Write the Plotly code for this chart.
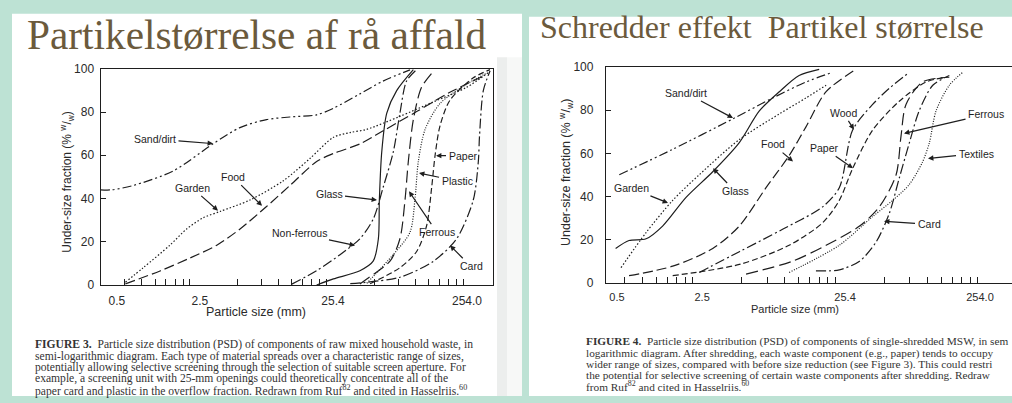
import math
import plotly.graph_objects as go

W, H = 1012, 403

# ---------------- Figure 3: raw mixed household waste (x: mm, y: % w/w) ----------------
f3_sand_x = [0.508, 0.61, 0.875, 1.72, 3.37, 5.3, 8.3, 12.3, 19.3, 25.5, 40, 59, 93]
f3_sand_y = [44, 44, 46, 52.7, 65.3, 72.8, 76.5, 77.7, 78.7, 81.7, 88.4, 94.3, 99.5]
f3_garden_x = [0.77, 1.04, 1.63, 2.16, 2.86, 3.79, 6.28, 11.0, 17.3, 25.6, 33.9, 44.9, 78.5, 138, 241, 358]
f3_garden_y = [1.3, 8, 18.4, 25.9, 31.1, 34, 39.3, 48.2, 58.6, 68.3, 70.5, 72, 78, 84.7, 91.4, 98.8]
f3_food_x = [0.77, 1.38, 2.29, 3.59, 5.31, 8.3, 12.3, 19.3, 25.6, 40.1, 59.2, 104, 182, 320]
f3_food_y = [0.5, 6.5, 12.5, 18.4, 25.9, 36.3, 46, 57.1, 60.8, 65.3, 71.3, 80.2, 89.1, 96.6]
f3_glass_x = [19.3, 25.6, 40, 50, 54.6, 55.5, 57.8, 62.9, 74.3, 98.4]
f3_glass_y = [0, 2.8, 6.6, 11, 21.4, 39.3, 61.6, 79.5, 89.9, 99.6]
f3_nonferrous_x = [12.7, 19.3, 28.6, 40, 50, 59.2, 70.2, 78.5, 87.8, 104]
f3_nonferrous_y = [0.4, 6.6, 14, 21.4, 30.4, 45.2, 61.6, 79.5, 94.3, 99.6]
f3_ferrous_x = [40, 44.9, 66.4, 78.5, 85.5, 90.4, 98.4, 113, 138]
f3_ferrous_y = [0.5, 2.8, 11, 21.4, 39.3, 57.1, 76.5, 91.4, 98.8]
f3_plastic_x = [44.9, 70, 93, 101, 107, 120, 154, 242, 339]
f3_plastic_y = [0.8, 14, 24.4, 39.3, 57.1, 72, 83.9, 92.9, 98]
f3_paper_x = [47.5, 78.5, 104, 123, 134, 142, 154, 182, 270, 358]
f3_paper_y = [0.6, 8, 15.5, 27.4, 45.2, 60.1, 73.5, 85.4, 95.8, 99.6]
f3_card_x = [34, 78.5, 138, 204, 270, 294, 300, 320, 358]
f3_card_y = [0.6, 3.6, 11, 21.4, 39.3, 57.1, 69, 90, 99]

# ---------------- Figure 4: single-shredded MSW ----------------
f4_sand_x = [0.70, 1.66, 4.38, 8.35, 14.3, 22]
f4_sand_y = [50.1, 61.9, 76, 85.7, 93.1, 97.6]
f4_garden_x = [0.72, 1.08, 1.66, 2.55, 4.87, 9.3, 14.3, 19.8]
f4_garden_y = [7, 23.3, 38.2, 50.1, 66.4, 78.3, 85.7, 91.6]
f4_glass_x = [0.66, 0.82, 1.08, 1.41, 2.06, 3.17, 4.87, 6.73, 9.3, 12.8, 17.7]
f4_glass_y = [15.9, 19.6, 20.4, 26.3, 39.6, 51.5, 65, 79.7, 88.6, 96.1, 99]
f4_food_x = [0.82, 1.66, 3.17, 4.87, 7.5, 10.9, 14.3, 19.8, 32]
f4_food_y = [3.3, 7.7, 15.9, 26.3, 44.1, 59, 72.3, 88.6, 99]
f4_wood_x = [2.55, 4.87, 9.8, 18.7, 24.5, 30.4, 42, 55, 76]
f4_wood_y = [4.8, 14.4, 24.8, 35.2, 44.1, 70.8, 82.7, 90.2, 97.6]
f4_paper_x = [1.66, 4.87, 10.9, 18.7, 24.5, 30.4, 42, 64.6, 99.5, 137]
f4_paper_y = [3.3, 8.5, 17.4, 27.8, 38.2, 53, 70.8, 84.2, 93.1, 95.3]
f4_ferrous_x = [5.43, 11.5, 19.8, 34, 46.8, 61.3, 66.4, 72, 94, 145]
f4_ferrous_y = [4, 10, 17.4, 26.3, 35.2, 50, 67.9, 82.7, 93.1, 95.3]
f4_textiles_x = [10.9, 24.5, 42, 58, 76, 94, 105, 117, 145, 180]
f4_textiles_y = [4.8, 17.4, 30.7, 38.2, 45.6, 56, 64.9, 79.7, 91.6, 97.6]
f4_card_x = [16.8, 24.5, 34, 44.4, 55, 64.6, 76, 89, 111, 145]
f4_card_y = [5.5, 6, 10, 18.9, 32.2, 48.6, 64.9, 79.7, 91.6, 96.1]

# ---------------- axis labels / texts ----------------
x_tick_text = ["0.5", "2.5", "25.4", "254.0"]
y_tick_vals = [0, 20, 40, 60, 80, 100]
title_left = "Partikelstørrelse af rå affald"
title_right = "Schredder effekt\u00a0 Partikel størrelse"
x_title = "Particle size (mm)"
y_title = "Under-size fraction (% <sup>w</sup>/<sub>w</sub>)"
caption_left = [
    "<b>FIGURE 3.</b>\u00a0 Particle size distribution (PSD) of components of raw mixed household waste, in",
    "semi-logarithmic diagram. Each type of material spreads over a characteristic range of sizes,",
    "potentially allowing selective screening through the selection of suitable screen aperture. For",
    "example, a screening unit with 25-mm openings could theoretically concentrate all of the",
    "paper card and plastic in the overflow fraction. Redrawn from Ruf<sup>82</sup> and cited in Hasselriis.<sup>60</sup>",
]
# the slide crops this caption at its right edge
caption_right = [
    "<b>FIGURE 4.</b>\u00a0 Particle size distribution (PSD) of components of single-shredded MSW, in sem",
    "logarithmic diagram. After shredding, each waste component (e.g., paper) tends to occupy",
    "wider range of sizes, compared with before size reduction (see Figure 3). This could restri",
    "the potential for selective screening of certain waste components after shredding. Redraw",
    "from Ruf<sup>82</sup> and cited in Hasselriis.<sup>60</sup>",
]

# ---------------- styling ----------------
BG = "#bde2d4"
INK = "#1e1e1e"
TITLE_C = "#6b5a3c"
SANS = "Liberation Sans, Arial, sans-serif"
SERIF = "Liberation Serif, Times New Roman, serif"


def px(x):
    return x / W


def py(y):
    return 1 - y / H


DASH = {
    "dashdotdot": "9px,3px,2px,3px,2px,3px",
    "dot": "1.5px,2px",
    "finedot": "1px,1.5px",
    "longdash": "10px,4px",
    "dashdot": "10px,3px,2px,3px",
    "dash": "6px,3px",
    "ldash": "12px,5px",
    "solid": "solid",
}

fig = go.Figure()

f3 = [
    (f3_sand_x, f3_sand_y, "dashdotdot"),
    (f3_garden_x, f3_garden_y, "dot"),
    (f3_food_x, f3_food_y, "longdash"),
    (f3_glass_x, f3_glass_y, "solid"),
    (f3_nonferrous_x, f3_nonferrous_y, "dashdot"),
    (f3_ferrous_x, f3_ferrous_y, "ldash"),
    (f3_plastic_x, f3_plastic_y, "finedot"),
    (f3_paper_x, f3_paper_y, "dash"),
    (f3_card_x, f3_card_y, "dashdot"),
]
f4 = [
    (f4_sand_x, f4_sand_y, "dashdotdot"),
    (f4_garden_x, f4_garden_y, "dot"),
    (f4_glass_x, f4_glass_y, "solid"),
    (f4_food_x, f4_food_y, "longdash"),
    (f4_wood_x, f4_wood_y, "dashdot"),
    (f4_paper_x, f4_paper_y, "dash"),
    (f4_ferrous_x, f4_ferrous_y, "ldash"),
    (f4_textiles_x, f4_textiles_y, "finedot"),
    (f4_card_x, f4_card_y, "dashdot"),
]
for xs, ys, d in f3:
    fig.add_trace(go.Scatter(x=xs, y=ys, mode="lines", xaxis="x", yaxis="y",
                             line=dict(color=INK, width=1.2, dash=DASH[d], shape="spline", smoothing=0.8),
                             showlegend=False, hoverinfo="skip"))
for xs, ys, d in f4:
    fig.add_trace(go.Scatter(x=xs, y=ys, mode="lines", xaxis="x2", yaxis="y2",
                             line=dict(color=INK, width=1.2, dash=DASH[d], shape="spline", smoothing=0.8),
                             showlegend=False, hoverinfo="skip"))

# axis geometry (pixels)
L = dict(x0=100.7, x1=493, y0=64, y1=288, xmin=0.508, dec=136.7)
R = dict(x0=606, x1=1012, y0=62.3, y1=285.7, xmin=0.565, dec=142.5)


def xrange_of(g):
    lo = math.log10(g["xmin"])
    return [lo, lo + (g["x1"] - g["x0"]) / g["dec"]]


majors = [2.54, 25.4, 254.0]
minors = [b * k for b in (0.254, 2.54, 25.4) for k in range(2, 10)]
label_pos_left = [0.668, 2.70, 25.4, 243]
label_pos_right = [0.675, 2.67, 26.9, 238]


def axfont(size):
    return dict(family=SANS, size=size, color="#2a2a2a")


def main_x(g, labels_pos, anchor, standoff, fsize):
    return dict(type="log", range=xrange_of(g), domain=[px(g["x0"]), px(g["x1"])], anchor=anchor,
                showline=True, linecolor=INK, linewidth=1.3, mirror=True,
                tickmode="array", tickvals=labels_pos, ticktext=x_tick_text, ticks="",
                ticklabelstandoff=standoff, tickfont=axfont(fsize), showgrid=False, zeroline=False,
                minor=dict(tickmode="array", tickvals=minors, ticks="inside", ticklen=6,
                           tickcolor=INK, tickwidth=1.1, showgrid=False))


def over_x(g, over, anchor):
    return dict(type="log", range=xrange_of(g), domain=[px(g["x0"]), px(g["x1"])], anchor=anchor,
                overlaying=over, showline=True, linecolor=INK, linewidth=1.3, mirror="ticks",
                tickmode="array", tickvals=majors, ticks="inside", ticklen=11, tickwidth=1.2,
                tickcolor=INK, showticklabels=False, showgrid=False, zeroline=False)


def main_y(g, anchor, mirror, standoff):
    return dict(range=[0, 100], domain=[py(g["y1"]), py(g["y0"])], anchor=anchor,
                showline=True, linecolor=INK, linewidth=1.3, mirror=mirror,
                tickmode="array", tickvals=y_tick_vals, ticks="inside", ticklen=5, tickcolor=INK,
                ticklabelstandoff=standoff, tickfont=axfont(12), showgrid=False, zeroline=False)


fig.update_layout(
    width=W, height=H, autosize=False,
    margin=dict(l=0, r=0, t=0, b=0, pad=0),
    paper_bgcolor=BG, plot_bgcolor="white",
    xaxis=main_x(L, label_pos_left, "y", 4, 12),
    xaxis3=over_x(L, "x", "y"),
    yaxis=main_y(L, "x", True, 3),
    xaxis2=main_x(R, label_pos_right, "y2", 4, 11),
    xaxis4=over_x(R, "x2", "y2"),
    yaxis2=main_y(R, "x2", False, 9),
)

shapes = [
    dict(type="rect", xref="paper", yref="paper", x0=px(12), x1=px(522), y0=py(403), y1=py(7),
         fillcolor="white", line=dict(width=0), layer="below"),
    dict(type="rect", xref="paper", yref="paper", x0=px(497), x1=px(507), y0=py(403), y1=py(52),
         fillcolor="#eceeed", line=dict(width=0), layer="below"),
    dict(type="rect", xref="paper", yref="paper", x0=px(507), x1=px(522), y0=py(403), y1=py(52),
         fillcolor="#f7f8f7", line=dict(width=0), layer="below"),
    dict(type="rect", xref="paper", yref="paper", x0=px(529), x1=px(1012), y0=py(403), y1=py(10),
         fillcolor="white", line=dict(width=0), layer="below"),
]
fig.update_layout(shapes=shapes)

ann = []
ann.append(dict(text=title_left, x=px(25), y=py(29), xanchor="left", yanchor="middle",
                font=dict(family=SERIF, size=41.3, color=TITLE_C)))
ann.append(dict(text=title_right, x=px(538), y=py(21), xanchor="left", yanchor="middle",
                font=dict(family=SERIF, size=32, color=TITLE_C)))
for i, line in enumerate(caption_left):
    ann.append(dict(text=line, x=px(33), y=py(350 + 11.7 * i), xanchor="left", yanchor="middle",
                    font=dict(family=SERIF, size=11.6, color="#333")))
for i, line in enumerate(caption_right):
    ann.append(dict(text=line, x=px(584), y=py(347 + 11.5 * i), xanchor="left", yanchor="middle",
                    font=dict(family=SERIF, size=11.3, color="#333")))
# axis titles
ann.append(dict(text=x_title, x=px(256), y=py(315.5), xanchor="center", yanchor="middle",
                font=dict(family=SANS, size=12.5, color="#2a2a2a")))
ann.append(dict(text=x_title, x=px(795), y=py(313), xanchor="center", yanchor="middle",
                font=dict(family=SANS, size=11, color="#2a2a2a")))
ann.append(dict(text=y_title, x=px(67), y=py(181), xanchor="center", yanchor="middle", textangle=-90,
                font=dict(family=SANS, size=12, color="#2a2a2a")))
ann.append(dict(text=y_title, x=px(566), y=py(172), xanchor="center", yanchor="middle", textangle=-90,
                font=dict(family=SANS, size=12.5, color="#2a2a2a")))

# curve labels with arrows: (text, text centre px, arrow tip px)
labels_left = [
    ("Sand/dirt", (155, 137), (213, 141.5)),
    ("Garden", (192, 188), (218, 211)),
    ("Food", (233, 177), (262, 206)),
    ("Glass", (329, 194), (377, 200)),
    ("Non-ferrous", (299, 235), (355, 247)),
    ("Paper", (463, 154), (436, 154)),
    ("Plastic", (457, 180), (419, 172)),
    ("Ferrous", (437, 232), (409, 191)),
    ("Card", (471, 268), (450, 247)),
]
labels_right = [
    ("Sand/dirt", (686, 90), (733, 115)),
    ("Garden", (631, 188), (668, 203)),
    ("Glass", (735, 190), (713, 167)),
    ("Food", (773, 143), (793, 160)),
    ("Wood", (843, 110), (854, 127)),
    ("Paper", (824, 147), (853, 167)),
    ("Ferrous", (986, 112), (904, 131)),
    ("Textiles", (976, 152), (928, 157)),
    ("Card", (929, 225), (884, 222)),
]
for name, (tx, ty), (ax_, ay_) in labels_left + labels_right:
    ann.append(dict(text=name, x=px(ax_), y=py(ay_), xref="paper", yref="paper",
                    ax=tx - ax_, ay=ty - ay_, showarrow=True, arrowhead=2, arrowsize=0.9,
                    arrowwidth=1.2, arrowcolor=INK, standoff=0, startstandoff=1,
                    font=dict(family=SANS, size=10.5, color=INK)))

for a in ann:
    a.setdefault("xref", "paper")
    a.setdefault("yref", "paper")
    a.setdefault("showarrow", False)
fig.update_layout(annotations=ann)

# the page body has a default 8px margin; remove it so the figure fills the window exactly
fig.write_html(
    "out.html",
    config={"displayModeBar": False},
    post_script="document.body.style.margin='0';document.body.style.overflow='hidden';"
                "document.body.style.background='%s';" % BG,
)
